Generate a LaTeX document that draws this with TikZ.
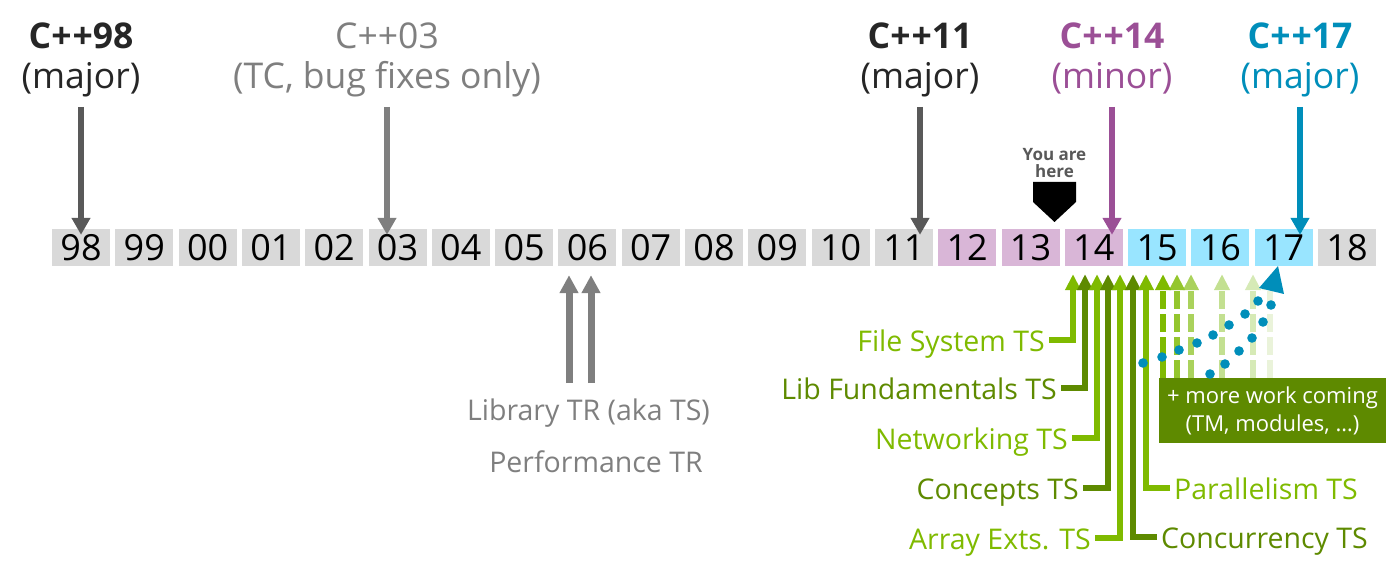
\documentclass[tikz,border=0pt]{standalone}
\usepackage{fontspec}
\setmainfont{Open Sans}
\usetikzlibrary{arrows.meta}
\definecolor{ttlblack}{RGB}{38,38,38}
\definecolor{dgray}{RGB}{89,89,89}
\definecolor{mgray}{RGB}{127,127,127}
\definecolor{cpurple}{RGB}{155,79,150}
\definecolor{cteal}{RGB}{0,142,186}
\definecolor{boxgray}{RGB}{217,217,217}
\definecolor{boxpurple}{RGB}{217,182,215}
\definecolor{boxcyan}{RGB}{153,229,255}
\definecolor{lgreen}{RGB}{127,186,0}
\definecolor{dgreen}{RGB}{94,138,0}
\definecolor{dga}{RGB}{127,186,0}
\definecolor{dgb}{RGB}{148,198,45}
\definecolor{dgc}{RGB}{170,210,92}
\definecolor{dgd}{RGB}{195,224,145}
\definecolor{dge}{RGB}{214,234,182}
\definecolor{dgf}{RGB}{234,243,218}
\newcommand\ttlfont{\fontsize{35.5}{40}\selectfont}
\newcommand\lblfont{\fontsize{28.5}{32}\selectfont}
\begin{document}
\begin{tikzpicture}[x=1pt,y=-1pt,
  yr/.style={minimum width=58pt, minimum height=37pt, inner sep=0pt, font=\fontsize{36}{36}\selectfont, text=black},
  ttl/.style={anchor=base, inner sep=0pt, font=\ttlfont},
  bigarr/.style={line width=6pt, -{Triangle[width=18pt,length=17pt]}},
  trarr/.style={line width=7pt, -{Triangle[width=18pt,length=18pt]}},
  garr/.style={line width=6pt, -{Triangle[width=15pt,length=16pt]}},
  glbl/.style={inner xsep=4pt, inner ysep=0pt, font=\lblfont},
  trlbl/.style={anchor=base, inner sep=0pt, font=\lblfont, text=mgray}]
\useasboundingbox (0,0) rectangle (1400,577);

% year boxes
\foreach \lab/\col [count=\i from 0] in {98/boxgray,99/boxgray,00/boxgray,01/boxgray,02/boxgray,03/boxgray,04/boxgray,05/boxgray,06/boxgray,07/boxgray,08/boxgray,09/boxgray,10/boxgray,11/boxgray,12/boxpurple,13/boxpurple,14/boxpurple,15/boxcyan,16/boxcyan,17/boxcyan,18/boxgray}
  \node[yr, fill=\col] (y\lab) at ({81+63.3*\i},247.5) {\lab};

% titles
\node[ttl, font=\ttlfont\bfseries, text=ttlblack] (t98) at (81,49) {C+\kern1pt+98};
\node[ttl, text=ttlblack] (t98b) at (81,89) {(major)};
\node[ttl, text=mgray] (t03) at (387,49) {C++03};
\node[ttl, text=mgray] (t03b) at (387,89) {(TC, bug fixes only)};
\node[ttl, font=\ttlfont\bfseries, text=ttlblack] (t11) at (920,49) {C+\kern1pt+11};
\node[ttl, text=ttlblack] (t11b) at (920,89) {(major)};
\node[ttl, font=\ttlfont\bfseries, text=cpurple] (t14) at (1112,49) {C+\kern1pt+14};
\node[ttl, text=cpurple] (t14b) at (1112,89) {(minor)};
\node[ttl, font=\ttlfont\bfseries, text=cteal] (t17) at (1300,49) {C+\kern1pt+17};
\node[ttl, text=cteal] (t17b) at (1300,89) {(major)};

% title arrows
\draw[bigarr, dgray, shorten >=12pt] ([yshift=-18pt]t98b.base) -- ([yshift=-18pt]t98b.base |- y98.north);
\draw[bigarr, mgray, shorten >=12pt] ([yshift=-18pt]t03b.base) -- ([yshift=-18pt]t03b.base |- y03.north);
\draw[bigarr, dgray, shorten >=12pt] ([yshift=-18pt]t11b.base) -- ([yshift=-18pt]t11b.base |- y11.north);
\draw[bigarr, cpurple, shorten >=12pt] ([yshift=-18pt]t14b.base) -- ([yshift=-18pt]t14b.base |- y14.north);
\draw[bigarr, cteal, shorten >=12pt] ([yshift=-18pt]t17b.base) -- ([yshift=-18pt]t17b.base |- y17.north);

% you are here
\fill[black] (1033,182) -- (1076,182) -- (1076,202) -- (1054.5,222) -- (1033,202) -- cycle;
\node[font=\bfseries\fontsize{17}{17.5}\selectfont, text=dgray, align=center, anchor=south, inner sep=0pt] (here) at (1054.5,178) {You are\\here};

% library / performance TR
\node[trlbl] (lib) at (588.5,420) {Library TR (aka TS)};
\node[trlbl] (perf) at (596,472) {Performance TR};
\coordinate (la) at (569,383);
\coordinate (lb) at (591,383);
\draw[trarr, mgray, shorten >=9pt] (la) -- (la |- y06.south);
\draw[trarr, mgray, shorten >=9pt] (lb) -- (lb |- y06.south);

% more work box and dashed arrows
\node[fill=dgreen, text=white, minimum width=227pt, minimum height=65pt, inner sep=0pt, align=center, font=\fontsize{22}{28}\selectfont] (more) at (1272.5,410.5) {+ more work coming\\(TM, modules, …)};
\foreach \xx/\cc in {1270/dgf,1253/dge,1222/dgd,1191/dgc,1177/dgb,1163/dga}
  \draw[garr, \cc, dash pattern=on 18pt off 5pt] (more.north -| \xx,0) -- ([yshift=-8pt]y15.south -| \xx,0);

% technical specifications
\node[glbl, text=lgreen, anchor=base east] (fs) at (1049,351) {File System TS};
\node[glbl, text=dgreen, anchor=base east] (lf) at (1061,399) {Lib Fundamentals TS};
\node[glbl, text=lgreen, anchor=base east] (nw) at (1072,449) {Networking TS};
\node[glbl, text=dgreen, anchor=base east] (cp) at (1083,499) {Concepts TS};
\node[glbl, text=lgreen, anchor=base east] (ae) at (1095,549) {Array Exts. TS};
\node[glbl, text=dgreen, anchor=base west] (cc) at (1157,548) {Concurrency TS};
\node[glbl, text=lgreen, anchor=base west] (pl) at (1170,499) {Parallelism TS};

\draw[garr, lgreen] ([yshift=11pt]fs.base east) -| ([yshift=-8pt]y14.south -| 1073,0);
\draw[garr, dgreen] ([yshift=11pt]lf.base east) -| ([yshift=-8pt]y14.south -| 1085,0);
\draw[garr, lgreen] ([yshift=11pt]nw.base east) -| ([yshift=-8pt]y14.south -| 1097,0);
\draw[garr, dgreen] ([yshift=11pt]cp.base east) -| ([yshift=-8pt]y14.south -| 1108,0);
\draw[garr, lgreen] ([yshift=11pt]ae.base east) -| ([yshift=-8pt]y14.south -| 1120,0);
\draw[garr, dgreen] ([yshift=11pt]cc.base west) -| ([yshift=-8pt]y14.south -| 1133,0);
\draw[garr, lgreen] ([yshift=11pt]pl.base west) -| ([yshift=-8pt]y14.south -| 1146,0);

% dotted trend to C++17
\foreach \p in {(1143,363),(1162,357),(1179,350),(1197,343),(1213,335),(1229,325),(1245,314),(1258,301),(1210,374),(1225,364),(1239,351),(1252,338),(1263,322),(1271,305)}
  \fill[cteal] \p circle (4.8pt);
\fill[cteal] (1259,288) -- (1284,294) -- (1278,266) -- cycle;
\end{tikzpicture}
\end{document}
